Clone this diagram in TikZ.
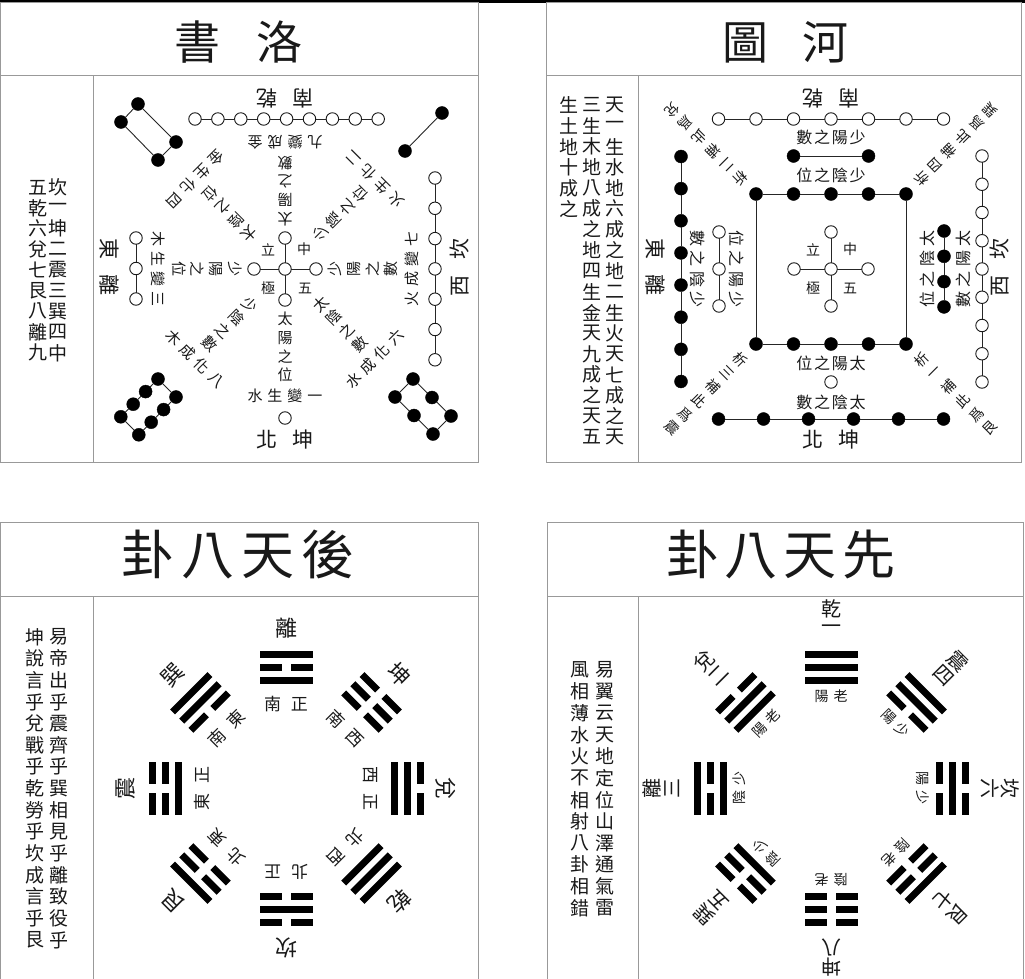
\documentclass[tikz,border=0pt]{standalone}
\usepackage{fontspec}
\setmainfont{Noto Sans CJK TC}
\makeatletter
\newcommand\HS[2]{\edef\hs@list{#2}\hbox{\expandafter\hs@loop\hs@list\@nil{#1}}}
\def\hs@loop#1\@nil#2{\@tfor\hs@c:=#1\do{\hbox to #2{\hss\hs@c\hss}}}
\newcommand\VS[2]{\edef\vs@list{#2}\vbox{\offinterlineskip\expandafter\vs@loop\vs@list\@nil{#1}}}
\def\vs@loop#1\@nil#2{\@tfor\vs@c:=#1\do{\vbox to #2{\vss\hbox to 1.1em{\hss\vs@c\hss}\vss}}}
\makeatother
\newcommand\fsA{\fontsize{15}{15}\selectfont}
\newcommand\fsH{\fontsize{16}{16}\selectfont}
\newcommand\fsS{\fontsize{14}{14}\selectfont}
\newcommand\fsL{\fontsize{21}{21}\selectfont}
\newcommand\fsC{\fontsize{19}{19}\selectfont}
\newcommand\fsT{\fontsize{46}{46}\selectfont}
\newcommand\fsG{\fontsize{53}{53}\selectfont}
\newcommand\ybar[2]{\ifnum#2=1 \fill[black] (-26.5,#1-3.5) rectangle (26.5,#1+3.5);\else\fill[black] (-26.5,#1-3.5) rectangle (-4.5,#1+3.5);\fill[black] (4.5,#1-3.5) rectangle (26.5,#1+3.5);\fi}
\begin{document}
\begin{tikzpicture}[x=1pt,y=1pt,
  every node/.style={inner sep=0pt,outer sep=0pt,text=black!90},
  frame/.style={draw=black!40,line width=1pt},
  od/.style={circle,draw=black!90,fill=white,line width=0.9pt,minimum size=12.5pt},
  bd/.style={circle,draw=black,fill=black,minimum size=13pt},
  link/.style={draw=black!85,line width=0.9pt}]
\useasboundingbox (0,0) rectangle (1025,-979);
\fill[white] (0,0) rectangle (1025,-979);
\fill[black] (0,0) rectangle (1025,-3);
% ---------------- frames
\draw[frame] (0.5,-3) rectangle (478,-462);
\draw[frame] (0.5,-76) -- (478,-76);
\draw[frame] (93,-76) -- (93,-462);
\draw[frame] (546,-3) rectangle (1021,-462);
\draw[frame] (546,-76) -- (1021,-76);
\draw[frame] (638,-76) -- (638,-462);
\draw[frame] (0.5,-985) -- (0.5,-522) -- (478,-522) -- (478,-985);
\draw[frame] (0.5,-596) -- (478,-596);
\draw[frame] (93,-596) -- (93,-985);
\draw[frame] (547,-985) -- (547,-522) -- (1023,-522) -- (1023,-985);
\draw[frame] (547,-596) -- (1023,-596);
\draw[frame] (638,-596) -- (638,-985);
% ---------------- titles
\node[font=\fsT] (t1) at (238.5,-42) {\HS{83pt}{書洛}};
\node[font=\fsT] (t2) at (785,-42) {\HS{80pt}{圖河}};
\node[font=\fsG] (t3) at (238,-555) {\HS{60pt}{卦八天後}};
\node[font=\fsG] (t4) at (781,-555) {\HS{59pt}{卦八天先}};
% ---------------- side columns
\node[font=\fsC] (c1) at (58,-270) {\VS{20.7pt}{坎一坤二震三巽四中}};
\node[font=\fsC] (c2) at (38,-270) {\VS{20.7pt}{五乾六兌七艮八離九}};
\node[font=\fsC] (c3) at (615,-271) {\VS{20.75pt}{天一生水地六成之地二生火天七成之天}};
\node[font=\fsC] (c4) at (592,-271) {\VS{20.75pt}{三生木地八成之地四生金天九成之天五}};
\node[font=\fsC] (c5) at (569,-157) {\VS{20.75pt}{生土地十成之}};
\node[font=\fsC] (c6) at (59,-788.5) {\VS{21.64pt}{易帝出乎震齊乎巽相見乎離致役乎}};
\node[font=\fsC] (c7) at (35,-788.5) {\VS{21.64pt}{坤說言乎兌戰乎乾勞乎坎成言乎艮}};
\node[font=\fsC] (c8) at (605,-789) {\VS{21.64pt}{易翼云天地定位山澤通氣雷}};
\node[font=\fsC] (c9) at (580,-789) {\VS{21.64pt}{風相薄水火不相射八卦相錯}};
% ================= LUO SHU
\begin{scope}[shift={(285,-269)}]
\node[od] (Lc) at (0,0) {};
\node[od] (Lcl) at (-31,0) {};
\node[od] (Lcr) at (31,0) {};
\node[od] (Lct) at (0,31) {};
\node[od] (Lcb) at (0,-31) {};
\draw[link] (Lc) -- (Lcl) (Lc) -- (Lcr) (Lc) -- (Lct) (Lc) -- (Lcb);
\node[font=\fsS] (Lz1) at (-17,19) {立};
\node[font=\fsS] (Lz2) at (19,20) {中};
\node[font=\fsS] (Lz3) at (-17,-19) {極};
\node[font=\fsS] (Lz4) at (20,-19) {五};
\foreach \i in {0,...,8} \node[od] (LT\i) at (-90+\i*22.9,150) {};
\foreach \i [remember=\i as \j (initially 0)] in {1,...,8} \draw[link] (LT\j) -- (LT\i);
\node[od] (LBo) at (0,-149) {};
\foreach \i in {0,1,2} \node[od] (LL\i) at (-149,31-\i*30.5) {};
\draw[link] (LL0) -- (LL1) -- (LL2);
\foreach \i in {0,...,6} \node[od] (LR\i) at (150,91-\i*30.3) {};
\foreach \i [remember=\i as \j (initially 0)] in {1,...,6} \draw[link] (LR\j) -- (LR\i);
\node[bd] (LA1) at (-147,165) {};
\node[bd] (LA2) at (-164,147) {};
\node[bd] (LA3) at (-127,109) {};
\node[bd] (LA4) at (-109,127) {};
\draw[link] (LA1) -- (LA2) -- (LA3) -- (LA4) -- (LA1);
\node[bd] (LB1) at (157,156) {};
\node[bd] (LB2) at (120,118) {};
\draw[link] (LB1) -- (LB2);
\foreach \i in {0,...,3} {
  \node[bd] (LEa\i) at (-127-12.4*\i,-110-12.6*\i) {};
  \node[bd] (LEb\i) at (-109-12.4*\i,-128-12.6*\i) {};
}
\draw[link] (LEa0) -- (LEa1) -- (LEa2) -- (LEa3) -- (LEb3) -- (LEb2) -- (LEb1) -- (LEb0) -- (LEa0);
\foreach \i in {0,1,2} {
  \node[bd] (LFa\i) at (110+19*\i,-128-18.5*\i) {};
  \node[bd] (LFb\i) at (128+19*\i,-110-18.5*\i) {};
}
\draw[link] (LFa0) -- (LFa1) -- (LFa2) -- (LFb2) -- (LFb1) -- (LFb0) -- (LFa0);
\foreach \a/\inn/\out [count=\k] in {-90/太陽之位/水生變一, 90/太陽之數/九變成金, 180/少陽之位/木生變三, 0/少陽之數/火成變七, 45/少陰之位/火生化二, 135/太陰之位/金生化四, 225/少陰之數/木成化八, -45/太陰之數/水成化六} {
  \node[rotate=\a+90,font=\fsA] (Lin\k) at (\a:78) {\VS{18.5pt}{\inn}};
  \node[rotate=\a+90,font=\fsA] (Lout\k) at (\a:127) {\HS{20pt}{\out}};
}
\node[font=\fsL] (Ln1) at (-90:171) {\HS{36pt}{北坤}};
\node[font=\fsL,rotate=180] (Ln2) at (90:171) {\HS{36pt}{南乾}};
\node[font=\fsL,rotate=270] (Ln3) at (-175,2) {\HS{37pt}{東離}};
\node[font=\fsL,rotate=90] (Ln4) at (175,2) {\HS{37pt}{西坎}};
\end{scope}
% ================= HE TU
\begin{scope}[shift={(831,-269)}]
\node[od] (Hc) at (0,0) {};
\node[od] (Hcl) at (-37,0) {};
\node[od] (Hcr) at (37,0) {};
\node[od] (Hct) at (0,37) {};
\node[od] (Hcb) at (0,-37) {};
\draw[link] (Hc) -- (Hcl) (Hc) -- (Hcr) (Hc) -- (Hct) (Hc) -- (Hcb);
\node[font=\fsS] (Hz1) at (-18,19) {立};
\node[font=\fsS] (Hz2) at (19,20) {中};
\node[font=\fsS] (Hz3) at (-18,-19) {極};
\node[font=\fsS] (Hz4) at (19,-19) {五};
\foreach \i in {0,...,4} {
  \node[bd] (HQt\i) at (-75+37.5*\i,75) {};
  \node[bd] (HQb\i) at (-75+37.5*\i,-75) {};
}
\foreach \i [remember=\i as \j (initially 0)] in {1,...,4} \draw[link] (HQt\j) -- (HQt\i) (HQb\j) -- (HQb\i);
\draw[link] (HQt0) -- (HQb0) (HQt4) -- (HQb4);
\foreach \i in {0,...,6} \node[od] (HT\i) at (-112.5+37.5*\i,150) {};
\foreach \i [remember=\i as \j (initially 0)] in {1,...,6} \draw[link] (HT\j) -- (HT\i);
\node[bd] (Hp1) at (-37.5,113) {};
\node[bd] (Hp2) at (37.5,113) {};
\draw[link] (Hp1) -- (Hp2);
\node[od] (HBo) at (0,-113) {};
\foreach \i in {0,...,5} \node[bd] (HB\i) at (-112.5+45*\i,-150) {};
\foreach \i [remember=\i as \j (initially 0)] in {1,...,5} \draw[link] (HB\j) -- (HB\i);
\foreach \i in {0,...,7} \node[bd] (HL\i) at (-150,112.5-32.14*\i) {};
\foreach \i [remember=\i as \j (initially 0)] in {1,...,7} \draw[link] (HL\j) -- (HL\i);
\foreach \i in {0,1,2} \node[od] (Hl\i) at (-112,37-37*\i) {};
\draw[link] (Hl0) -- (Hl1) -- (Hl2);
\foreach \i in {0,...,8} \node[od] (HR\i) at (151,113-28.25*\i) {};
\foreach \i [remember=\i as \j (initially 0)] in {1,...,8} \draw[link] (HR\j) -- (HR\i);
\foreach \i in {0,...,3} \node[bd] (Hr\i) at (113,38-25.3*\i) {};
\draw[link] (Hr0) -- (Hr1) -- (Hr2) -- (Hr3);
\node[font=\fsH] (Hx1) at (0,132) {\HS{17.8pt}{數之陽少}};
\node[font=\fsH] (Hx2) at (0,94) {\HS{17.8pt}{位之陰少}};
\node[font=\fsH] (Hx3) at (0,-94) {\HS{17.8pt}{位之陽太}};
\node[font=\fsH] (Hx4) at (0,-133) {\HS{17.8pt}{數之陰太}};
\node[font=\fsH,rotate=270] (Hx5) at (-133,0) {\HS{20.6pt}{數之陰少}};
\node[font=\fsH,rotate=270] (Hx6) at (-94,0) {\HS{20.6pt}{位之陽少}};
\node[font=\fsH,rotate=90] (Hx7) at (96,0) {\HS{20.6pt}{位之陰太}};
\node[font=\fsH,rotate=90] (Hx8) at (132,0) {\HS{20.6pt}{數之陽太}};
\foreach \a/\t [count=\k] in {135/析二補此爲兌, 45/析四補此爲巽, 225/析三補此爲震, -45/析一補此爲艮}
  \node[rotate=\a+90,font=\fsS] (Hd\k) at (\a:176.5) {\VS{19.4pt}{\t}};
\node[font=\fsL] (Hn1) at (-90:171) {\HS{36pt}{北坤}};
\node[font=\fsL,rotate=180] (Hn2) at (90:171) {\HS{36pt}{南乾}};
\node[font=\fsL,rotate=270] (Hn3) at (-175,2) {\HS{37pt}{東離}};
\node[font=\fsL,rotate=90] (Hn4) at (169,2) {\HS{37pt}{西坎}};
\end{scope}
% ================= HOU TIAN
\begin{scope}[shift={(286,-788)}]
\foreach \a/\p/\q/\r/\nm/\dr [count=\k] in {90/1/0/1/離/南正, 45/0/0/0/坤/南西, 0/1/1/0/兌/西正, -45/1/1/1/乾/北西, -90/0/1/0/坎/北正, -135/0/0/1/艮/北東, 180/1/0/0/震/東正, 135/0/1/1/巽/南東} {
  \begin{scope}[rotate=\a-90,shift={(0,121)}]
    \ybar{-13}{\p}\ybar{0}{\q}\ybar{13}{\r}
  \end{scope}
  \node[rotate=\a-90,font=\fontsize{22}{22}\selectfont] (Bn\k) at (\a:160) {\nm};
  \node[rotate=\a-90,font=\fontsize{17}{17}\selectfont] (Bd\k) at (\a:84) {\HS{27pt}{\dr}};
}
\end{scope}
% ================= XIAN TIAN
\begin{scope}[shift={(831,-788)}]
\foreach \a/\p/\q/\r/\nm/\dr [count=\k] in {90/1/1/1/乾一/陽老, 135/1/1/0/兌二/陽老, 180/1/0/1/離三/陰少, 45/0/1/1/震四/陽少, -135/1/0/0/巽五/陰少, 0/0/1/0/坎六/陽少, -45/0/0/1/艮七/陰老, -90/0/0/0/坤八/陰老} {
  \begin{scope}[rotate=\a-90,shift={(0,121)}]
    \ybar{-13}{\p}\ybar{0}{\q}\ybar{13}{\r}
  \end{scope}
  \node[rotate=\a-90,font=\fontsize{20}{20}\selectfont] (Xn\k) at (\a:169) {\VS{20pt}{\nm}};
  \node[rotate=\a-90,font=\fsS] (Xd\k) at (\a:91.5) {\HS{19pt}{\dr}};
}
\end{scope}
\end{tikzpicture}
\end{document}
